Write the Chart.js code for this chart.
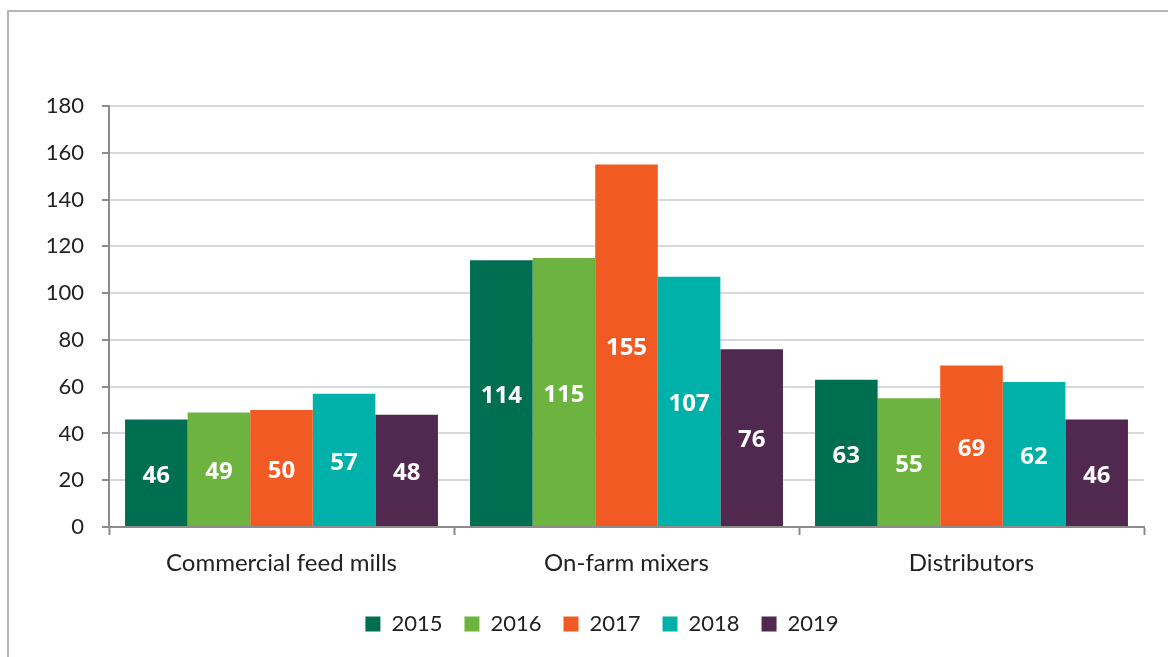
<!DOCTYPE html>
<html>
<head>
<meta charset="utf-8">
<script src="https://cdn.jsdelivr.net/npm/chart.js@4/dist/chart.umd.min.js"></script>
<style>
  html, body { margin: 0; padding: 0; background: #fff; }
  #wrap { width: 1168px; height: 657px; position: relative; }
</style>
</head>
<body>
<div id="wrap"><canvas id="myChart"></canvas></div>
<script>
const categories = ['Commercial feed mills', 'On-farm mixers', 'Distributors'];
const years = ['2015', '2016', '2017', '2018', '2019'];
const colors = ['#006e51', '#6db33f', '#f15a22', '#00b1a9', '#51284f'];
const values2015 = [46, 114, 63];
const values2016 = [49, 115, 55];
const values2017 = [50, 155, 69];
const values2018 = [57, 107, 62];
const values2019 = [48, 76, 46];
const yTicks = [0, 20, 40, 60, 80, 100, 120, 140, 160, 180];

const FONT = 'Lato, "Open Sans", sans-serif';
const LABEL_FONT = '"Open Sans", sans-serif';
const seriesValues = [values2015, values2016, values2017, values2018, values2019];

// white value labels in the middle of each bar
const barLabels = {
  id: 'barLabels',
  afterDatasetsDraw(chart) {
    const ctx = chart.ctx;
    ctx.save();
    ctx.fillStyle = '#ffffff';
    ctx.font = 'bold 24px ' + LABEL_FONT;
    ctx.textAlign = 'center';
    ctx.textBaseline = 'middle';
    chart.data.datasets.forEach((ds, i) => {
      chart.getDatasetMeta(i).data.forEach((bar, j) => {
        const mid = (bar.y + bar.base) / 2;
        ctx.fillText(String(ds.data[j]), bar.x, mid + 3);
      });
    });
    ctx.restore();
  }
};

// page frame (left and top edge of the original picture)
const frame = {
  id: 'frame',
  beforeDraw(chart) {
    const ctx = chart.ctx;
    ctx.save();
    ctx.fillStyle = '#fff';
    ctx.fillRect(0, 0, chart.width, chart.height);
    ctx.strokeStyle = '#b4b4b4';
    ctx.lineWidth = 2;
    ctx.beginPath();
    ctx.moveTo(8, chart.height);
    ctx.lineTo(8, 11);
    ctx.lineTo(chart.width, 11);
    ctx.stroke();
    ctx.restore();
  }
};

// the legend sits a bit right of the plot centre in the original
const legendShift = {
  id: 'legendShift',
  afterLayout(chart) {
    chart.legend.left += 30;
    chart.legend.right += 30;
  }
};

const ctx = document.getElementById('myChart').getContext('2d');

const data = {
  labels: categories,
  datasets: years.map((y, i) => ({
    label: y,
    data: seriesValues[i],
    backgroundColor: colors[i],
    borderWidth: 0,
    categoryPercentage: 0.907,
    barPercentage: 1.0
  }))
};

const config = {
  type: 'bar',
  data: data,
  plugins: [frame, barLabels, legendShift],
  options: {
    responsive: true,
    maintainAspectRatio: false,
    animation: false,
    layout: {
      padding: { top: 106, right: 24, bottom: 12, left: 0 }
    },
    plugins: {
      legend: {
        position: 'bottom',
        labels: {
          boxWidth: 15,
          boxHeight: 15,
          padding: 22,
          color: '#222',
          font: { family: FONT, size: 22 }
        }
      },
      tooltip: { enabled: false }
    },
    scales: {
      x: {
        afterFit: (scale) => { scale.height = 64; },
        grid: {
          offset: true,
          drawOnChartArea: false,
          tickLength: 8,
          tickWidth: 2,
          tickColor: '#8c8c8c'
        },
        border: { display: true, color: '#8c8c8c', width: 2 },
        ticks: {
          color: '#222',
          padding: 14,
          font: { family: FONT, size: 24 }
        }
      },
      y: {
        min: 0,
        max: 180,
        afterFit: (scale) => { scale.width = 109; },
        afterBuildTicks: (scale) => { scale.ticks = yTicks.map(v => ({ value: v })); },
        grid: {
          color: '#d9d9d9',
          lineWidth: 2,
          tickLength: 7,
          tickWidth: 2,
          tickColor: '#8c8c8c'
        },
        border: { display: true, color: '#8c8c8c', width: 2 },
        ticks: {
          color: '#222',
          padding: 18,
          font: { family: FONT, size: 22 }
        }
      }
    }
  }
};

const myChart = new Chart(ctx, config);
</script>
</body>
</html>
